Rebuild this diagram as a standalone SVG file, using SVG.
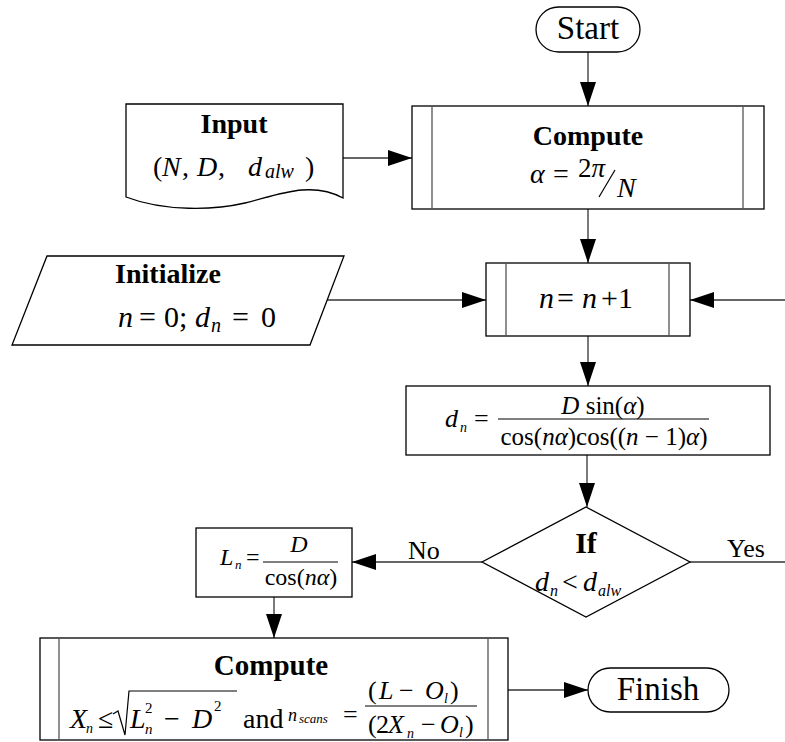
<svg xmlns="http://www.w3.org/2000/svg" width="785" height="742" viewBox="0 0 785 742">
  <style>
    text { font-family: "Liberation Serif", "Times New Roman", serif; fill: #000; }
    .box { fill: #fff; stroke: #000; stroke-width: 1.3; }
    .inner { stroke: #555; stroke-width: 1.3; fill: none; }
    .conn { stroke: #333; stroke-width: 1.3; fill: none; }
    .b { font-weight: bold; }
    .i { font-style: italic; }
    .bar { stroke: #000; stroke-width: 1.2; fill: none; }
  </style>
  <defs>
    <marker id="arrow" markerUnits="userSpaceOnUse" markerWidth="24" markerHeight="16" refX="24" refY="8" orient="auto">
      <path d="M0,0 L24,8 L0,16 Z" fill="#000"/>
    </marker>
  </defs>

  <!-- connectors -->
  <g id="connectors">
    <path class="conn" d="M588,52 V106" marker-end="url(#arrow)"/>
    <path class="conn" d="M343,158 H412" marker-end="url(#arrow)"/>
    <path class="conn" d="M588,209 V263" marker-end="url(#arrow)"/>
    <path class="conn" d="M326,300 H486" marker-end="url(#arrow)"/>
    <path class="conn" d="M785,300 H690" marker-end="url(#arrow)"/>
    <path class="conn" d="M588,336 V386" marker-end="url(#arrow)"/>
    <path class="conn" d="M587,455 V507" marker-end="url(#arrow)"/>
    <path class="conn" d="M482,562 H352" marker-end="url(#arrow)"/>
    <path class="conn" d="M690,562 H785"/>
    <path class="conn" d="M274,597 V638" marker-end="url(#arrow)"/>
    <path class="conn" d="M508,690 H588" marker-end="url(#arrow)"/>
    <text x="408" y="559" font-size="26">No</text>
    <text x="727" y="557" font-size="26">Yes</text>
  </g>

  <!-- terminator: start -->
  <g id="start">
    <rect class="box" x="536" y="7" width="104" height="45" rx="22.5"/>
    <text x="588" y="39" font-size="33" text-anchor="middle">Start</text>
  </g>

  <!-- document: input -->
  <g id="input">
    <path class="box" d="M126,104 H343 V198 C310,180 275,196 245,203 C215,210 165,212 126,197 Z"/>
    <text x="234" y="133" font-size="28" class="b" text-anchor="middle">Input</text>
    <text y="176" font-size="28">
      <tspan x="153">(</tspan><tspan x="162" class="i">N</tspan><tspan x="182">,</tspan><tspan x="197" class="i">D</tspan><tspan x="218">,</tspan><tspan x="248" class="i">d</tspan><tspan x="265" y="178" font-size="20" class="i">alw</tspan><tspan x="305" y="176">)</tspan>
    </text>
  </g>

  <!-- predefined process: alpha -->
  <g id="compute-alpha">
    <rect class="box" x="412" y="106" width="352" height="103"/>
    <path class="inner" d="M432,106 V209 M743,106 V209"/>
    <text x="588" y="145" font-size="28" class="b" text-anchor="middle">Compute</text>
    <text x="530" y="183" font-size="28" class="i">α</text>
    <text x="553" y="183" font-size="28">=</text>
    <text x="578" y="177" font-size="27">2<tspan class="i">π</tspan></text>
    <path class="bar" d="M599,197 L615,170"/>
    <text x="617" y="197" font-size="28" class="i">N</text>
  </g>

  <!-- input/output: initialize -->
  <g id="initialize">
    <path class="box" d="M47,256 H344 L310,345 H12 Z"/>
    <text x="168" y="283" font-size="28" class="b" text-anchor="middle">Initialize</text>
    <text y="327" font-size="30">
      <tspan x="118" class="i">n</tspan><tspan x="139">=</tspan><tspan x="164">0;</tspan><tspan x="195" class="i">d</tspan><tspan x="211" y="332" font-size="20" class="i">n</tspan><tspan x="232" y="327">=</tspan><tspan x="261">0</tspan>
    </text>
  </g>

  <!-- predefined process: increment -->
  <g id="increment">
    <rect class="box" x="486" y="263" width="204" height="73"/>
    <path class="inner" d="M506,263 V336 M669,263 V336"/>
    <text y="308" font-size="30">
      <tspan x="539" class="i">n</tspan><tspan x="557">=</tspan><tspan x="582" class="i">n</tspan><tspan x="601">+1</tspan>
    </text>
  </g>

  <!-- process: distance -->
  <g id="distance">
    <rect class="box" x="406" y="386" width="364" height="69"/>
    <text x="445" y="427" font-size="26" class="i">d</text>
    <text x="460" y="432" font-size="14" class="i">n</text>
    <text x="474" y="427" font-size="26">=</text>
    <path class="bar" d="M498,419 H709"/>
    <text x="603" y="414" font-size="25" text-anchor="middle"><tspan class="i">D</tspan> sin(<tspan class="i">α</tspan>)</text>
    <text x="604" y="445" font-size="25" text-anchor="middle">cos(<tspan class="i">nα</tspan>)cos((<tspan class="i">n</tspan> − 1)<tspan class="i">α</tspan>)</text>
  </g>

  <!-- decision -->
  <g id="decision">
    <path class="box" d="M586,507 L690,562 L586,617 L482,562 Z"/>
    <text x="586" y="553" font-size="30" class="b" text-anchor="middle">If</text>
    <text y="591" font-size="28">
      <tspan x="535" class="i">d</tspan><tspan x="550" y="596" font-size="16" class="i">n</tspan><tspan x="562" y="591">&lt;</tspan><tspan x="583" class="i">d</tspan><tspan x="598" y="596" font-size="16" class="i">alw</tspan>
    </text>
  </g>

  <!-- process: length -->
  <g id="length">
    <rect class="box" x="196" y="528" width="156" height="69"/>
    <text x="220" y="565" font-size="24" class="i">L</text>
    <text x="235" y="569" font-size="13" class="i">n</text>
    <text x="246" y="565" font-size="24">=</text>
    <path class="bar" d="M263,562 H338"/>
    <text x="299" y="552" font-size="24" class="i" text-anchor="middle">D</text>
    <text x="301" y="585" font-size="24" text-anchor="middle">cos(<tspan class="i">nα</tspan>)</text>
  </g>

  <!-- predefined process: scans -->
  <g id="compute-scans">
    <rect class="box" x="40" y="638" width="468" height="102"/>
    <path class="inner" d="M59,638 V740 M488,638 V740"/>
    <text x="271" y="675" font-size="29" class="b" text-anchor="middle">Compute</text>
    <text x="70" y="728" font-size="28" class="i">X</text>
    <text x="86" y="733" font-size="14" class="i">n</text>
    <text x="98" y="728" font-size="28">≤</text>
    <path class="bar" d="M113,714 L118,711 L125,735 L129,691 H237"/>
    <text x="130" y="728" font-size="28" class="i">L</text>
    <text x="145" y="713" font-size="15">2</text>
    <text x="145" y="734" font-size="15" class="i">n</text>
    <text x="164" y="728" font-size="28">−</text>
    <text x="192" y="728" font-size="28" class="i">D</text>
    <text x="214" y="711" font-size="15">2</text>
    <text x="243" y="728" font-size="28">and</text>
    <text x="288" y="721" font-size="18" class="i">n</text>
    <text x="299" y="723" font-size="13" class="i">scans</text>
    <text x="343" y="723" font-size="26">=</text>
    <path class="bar" d="M365,706 H477"/>
    <text y="699" font-size="26">
      <tspan x="368">(</tspan><tspan x="379" class="i">L</tspan><tspan x="399">−</tspan><tspan x="425" class="i">O</tspan><tspan x="444" y="703" font-size="14" class="i">l</tspan><tspan x="450" y="699">)</tspan>
    </text>
    <text y="733" font-size="26">
      <tspan x="368">(</tspan><tspan x="376">2</tspan><tspan x="388" class="i">X</tspan><tspan x="407" y="738" font-size="14" class="i">n</tspan><tspan x="421" y="733">−</tspan><tspan x="440" class="i">O</tspan><tspan x="459" y="737" font-size="14" class="i">l</tspan><tspan x="465" y="733">)</tspan>
    </text>
  </g>

  <!-- terminator: finish -->
  <g id="finish">
    <rect class="box" x="588" y="668" width="141" height="44" rx="22"/>
    <text x="658" y="700" font-size="33" text-anchor="middle">Finish</text>
  </g>
</svg>
